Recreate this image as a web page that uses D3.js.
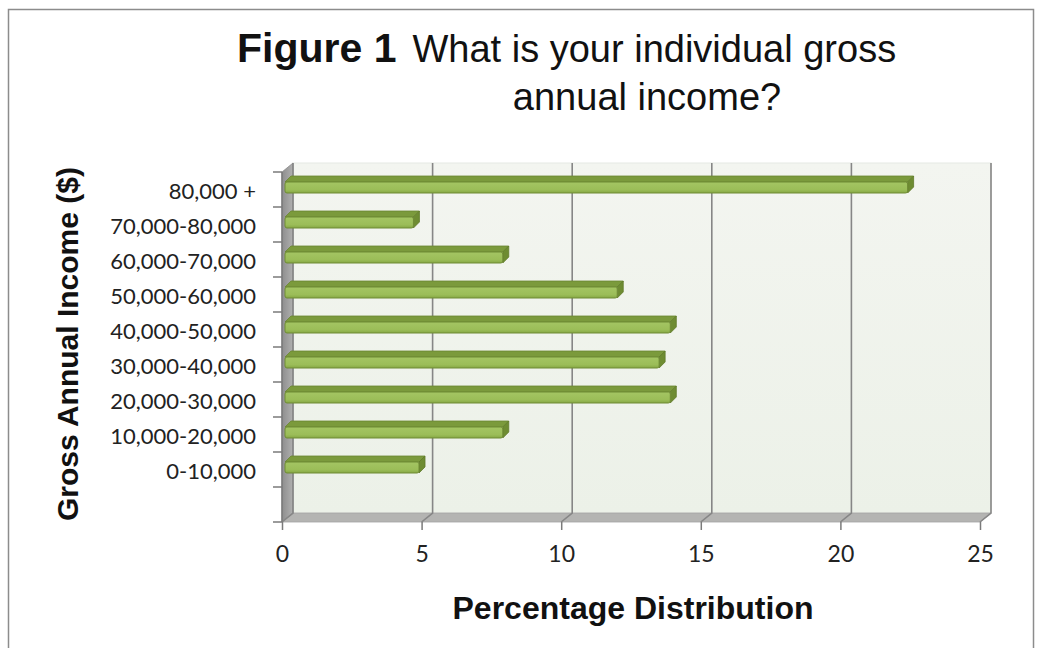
<!DOCTYPE html>
<html>
<head>
<meta charset="utf-8">
<script src="https://cdn.jsdelivr.net/npm/d3@7"></script>
<style>
  html, body { margin: 0; padding: 0; background: #fff; }
  svg { display: block; }
</style>
</head>
<body>
<svg id="chart" width="1042" height="648"></svg>
<script>
// Income brackets, listed bottom to top on the category axis
const categories = [
  "0-10,000", "10,000-20,000", "20,000-30,000", "30,000-40,000",
  "40,000-50,000", "50,000-60,000", "60,000-70,000", "70,000-80,000", "80,000 +"
];
// Share of respondents in each bracket (%)
const percentages = [4.8, 7.8, 13.8, 13.4, 13.8, 11.9, 7.8, 4.6, 22.3];
const xTicks = [0, 5, 10, 15, 20, 25];

const svg = d3.select("#chart");

// Outer frame
svg.append("rect")
  .attr("x", 8.5).attr("y", 9.5)
  .attr("width", 1025).attr("height", 700)
  .attr("fill", "#fff").attr("stroke", "#8c8c8c").attr("stroke-width", 1.5);

// Front plane of the 3-D box
const x = d3.scaleLinear().domain([0, 25]).range([282, 980]);
// one extra empty slot below the first bracket
const y = d3.scaleBand().domain(["", ...categories]).range([522, 172]);

// depth offset of the back wall
const DX = 11, DY = -9;
const x0 = x(0), x1 = x(25);
const yTop = 172, yBot = 522;

const defs = svg.append("defs");
const wallGrad = defs.append("linearGradient").attr("id", "wall").attr("x1", 0).attr("y1", 0).attr("x2", 0).attr("y2", 1);
wallGrad.append("stop").attr("offset", 0).attr("stop-color", "#f3f5f0");
wallGrad.append("stop").attr("offset", 1).attr("stop-color", "#ecf1e8");

const sideGrad = defs.append("linearGradient").attr("id", "side").attr("x1", 0).attr("y1", 0).attr("x2", 1).attr("y2", 0);
sideGrad.append("stop").attr("offset", 0).attr("stop-color", "#8e8e8e");
sideGrad.append("stop").attr("offset", 1).attr("stop-color", "#b0b0b0");

const barGrad = defs.append("linearGradient").attr("id", "barFront").attr("x1", 0).attr("y1", 0).attr("x2", 0).attr("y2", 1);
barGrad.append("stop").attr("offset", 0).attr("stop-color", "#a4c563");
barGrad.append("stop").attr("offset", 0.7).attr("stop-color", "#9bbd58");
barGrad.append("stop").attr("offset", 1).attr("stop-color", "#86a845");

const pts = p => p.map(d => d.join(",")).join(" ");

// Back wall
svg.append("rect")
  .attr("x", x0 + DX).attr("y", yTop + DY)
  .attr("width", x1 - x0).attr("height", yBot - yTop)
  .attr("fill", "url(#wall)").attr("stroke", "#e6e9e3").attr("stroke-width", 1);

// Left wall
svg.append("polygon")
  .attr("points", pts([[x0, yTop], [x0 + DX, yTop + DY], [x0 + DX, yBot + DY], [x0, yBot]]))
  .attr("fill", "url(#side)").attr("stroke", "#8a8a8a").attr("stroke-width", 0.8);

// Floor
svg.append("polygon")
  .attr("points", pts([[x0, yBot], [x0 + DX, yBot + DY], [x1 + DX, yBot + DY], [x1, yBot]]))
  .attr("fill", "#b4b4b2").attr("stroke", "#a3a3a3").attr("stroke-width", 0.8);

// Vertical gridlines across floor and back wall
const grid = svg.append("g");
xTicks.forEach(v => {
  const xv = x(v);
  grid.append("polyline")
    .attr("points", pts([[xv, yBot], [xv + DX, yBot + DY], [xv + DX, yTop + DY]]))
    .attr("fill", "none").attr("stroke", "#868686").attr("stroke-width", 1.6);
});

// Value axis ticks and labels
const xAxis = d3.axisBottom(x).tickValues(xTicks).tickSize(8).tickPadding(16).tickFormat(d3.format("d"));
const gx = svg.append("g").attr("transform", `translate(0,${yBot})`).call(xAxis);
gx.select(".domain").remove();
gx.selectAll(".tick line").attr("stroke", "#7a7a7a").attr("stroke-width", 1.5);
gx.selectAll(".tick text")
  .attr("font-family", "Lato, sans-serif").attr("font-size", 23).attr("fill", "#222");

// Category axis ticks at band edges and labels
const gy = svg.append("g");
gy.append("line")
  .attr("x1", x0).attr("x2", x0).attr("y1", yTop).attr("y2", yBot)
  .attr("stroke", "#7a7a7a").attr("stroke-width", 1.5);
const edges = y.domain().map(d => y(d)).concat([yBot]);
gy.selectAll("line.tk").data(edges).join("line")
  .attr("class", "tk")
  .attr("x1", x0 - 9).attr("x2", x0).attr("y1", d => d).attr("y2", d => d)
  .attr("stroke", "#7a7a7a").attr("stroke-width", 1.5);
gy.selectAll("text").data(categories).join("text")
  .attr("x", 256)
  .attr("y", d => y(d) + y.bandwidth() / 2 + 1)
  .attr("text-anchor", "end").attr("dominant-baseline", "central")
  .attr("font-family", "Lato, sans-serif").attr("font-size", 22).attr("fill", "#222")
  .text(d => d);

// 3-D bars
const BX = 3, BY = -2, BD = 6, BH = 11;
const bars = svg.append("g");
categories.forEach((c, i) => {
  const v = percentages[i];
  const cy = y(c) + y.bandwidth() / 2 + BY;
  const yt = cy - BH / 2, yb = cy + BH / 2;
  const bx0 = x(0) + BX, bx1 = x(v) + BX;
  const g = bars.append("g");
  // top face
  g.append("polygon")
    .attr("points", pts([[bx0, yt], [bx0 + BD, yt - BD], [bx1 + BD, yt - BD], [bx1, yt]]))
    .attr("fill", "#7b9a3c").attr("stroke", "#6b8731").attr("stroke-width", 0.8);
  // end face
  g.append("polygon")
    .attr("points", pts([[bx1, yt], [bx1 + BD, yt - BD], [bx1 + BD, yb - BD], [bx1, yb]]))
    .attr("fill", "#6e8c32").attr("stroke", "#5f7a2a").attr("stroke-width", 0.8);
  // front face
  g.append("rect")
    .attr("x", bx0).attr("y", yt).attr("width", bx1 - bx0).attr("height", BH)
    .attr("rx", 2)
    .attr("fill", "url(#barFront)").attr("stroke", "#6f8b34").attr("stroke-width", 1);
});

// Titles
const title = svg.append("text")
  .attr("x", 237).attr("y", 62)
  .attr("font-family", "Liberation Sans, Arial, sans-serif").attr("fill", "#111");
title.append("tspan").attr("font-weight", "bold").attr("font-size", 41).text("Figure 1");
title.append("tspan").attr("font-size", 38).attr("dx", 16).text("What is your individual gross");

svg.append("text")
  .attr("x", 647).attr("y", 110).attr("text-anchor", "middle")
  .attr("font-family", "Liberation Sans, Arial, sans-serif").attr("font-size", 38).attr("fill", "#111")
  .text("annual income?");

svg.append("text")
  .attr("x", 633).attr("y", 619).attr("text-anchor", "middle")
  .attr("font-family", "Liberation Sans, Arial, sans-serif").attr("font-weight", "bold")
  .attr("font-size", 32).attr("fill", "#111")
  .text("Percentage Distribution");

svg.append("text")
  .attr("transform", "translate(78,344) rotate(-90)")
  .attr("text-anchor", "middle")
  .attr("font-family", "Liberation Sans, Arial, sans-serif").attr("font-weight", "bold")
  .attr("font-size", 30).attr("fill", "#111")
  .text("Gross Annual Income ($)");
</script>
</body>
</html>
